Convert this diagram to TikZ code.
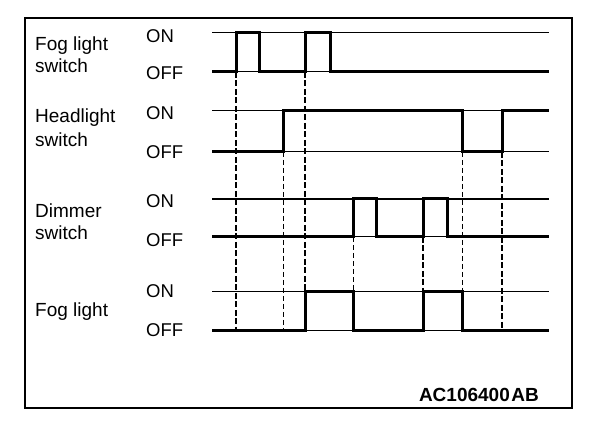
\documentclass[tikz,border=0pt]{standalone}
\usepackage{fontspec}
\setmainfont{Liberation Sans}
\begin{document}
\begin{tikzpicture}[x=1pt,y=-1pt,
  lbl/.style={anchor=base west,inner sep=0pt,font=\fontsize{19}{22}\selectfont},
  lvl/.style={anchor=base west,inner sep=0pt,font=\fontsize{18.5}{22}\selectfont},
  ref/.style={line width=1pt},
  sig/.style={line width=3pt,line join=miter,line cap=butt},
  thickdash/.style={line width=2.4pt,dash pattern=on 6pt off 2.5pt},
  thindash/.style={line width=1pt,dash pattern=on 5pt off 3pt},
  frame/.style={line width=2pt}]
\useasboundingbox (0,0) rectangle (608,430);
\draw[frame] (25,18) rectangle (572,408);
% labels
\node[lbl] (l1a) at (35,51) {Fog light};
\node[lbl] (l1b) at (35,73) {switch};
\node[lbl] (l2a) at (35,123) {Headlight};
\node[lbl] (l2b) at (35,147) {switch};
\node[lbl] (l3a) at (35,218) {Dimmer};
\node[lbl] (l3b) at (35,240) {switch};
\node[lbl] (l4a) at (35,317) {Fog light};
\node[lvl] (on1) at (146,43) {ON};
\node[lvl] (off1) at (146,80) {OFF};
\node[lvl] (on2) at (146,120) {ON};
\node[lvl] (off2) at (146,159) {OFF};
\node[lvl] (on3) at (146,208) {ON};
\node[lvl] (off3) at (146,247) {OFF};
\node[lvl] (on4) at (146,298) {ON};
\node[lvl] (off4) at (146,337) {OFF};
\node[anchor=base east,inner sep=0pt,font=\fontsize{19}{22}\selectfont\bfseries] (code) at (539,402) {AC106400\kern1.5pt AB};
% reference levels
\draw[ref] (212,33) -- (549,33);
\draw[ref] (212,72) -- (549,72);
\draw[ref] (212,111) -- (549,111);
\draw[ref] (212,152) -- (549,152);
\draw[line width=1.6pt] (212,199) -- (549,199);
\draw[ref] (212,237) -- (549,237);
\draw[ref] (212,292) -- (549,292);
\draw[ref] (212,331) -- (549,331);
% dashed guides
\draw[thickdash] (236,72) -- (236,331);
\draw[thindash] (283,152) -- (283,331);
\draw[thickdash] (305,72) -- (305,292);
\draw[thindash] (353,237) -- (353,292);
\draw[thickdash,line width=1.8pt] (423,237) -- (423,292);
\draw[thindash] (462,152) -- (462,292);
\draw[thickdash] (502,152) -- (502,331);
% signals
\draw[sig] (212,72) -- (236,72) -- (236,33) -- (259,33) -- (259,72) -- (305,72) -- (305,33) -- (330,33) -- (330,72) -- (549,72);
\draw[sig] (212,152) -- (283,152) -- (283,111) -- (462,111) -- (462,152) -- (502,152) -- (502,111) -- (549,111);
\draw[sig] (212,237) -- (353,237) -- (353,199) -- (376,199) -- (376,237) -- (423,237) -- (423,199) -- (447,199) -- (447,237) -- (549,237);
\draw[sig] (212,331) -- (305,331) -- (305,292) -- (353,292) -- (353,331) -- (423,331) -- (423,292) -- (462,292) -- (462,331) -- (549,331);
\end{tikzpicture}
\end{document}
